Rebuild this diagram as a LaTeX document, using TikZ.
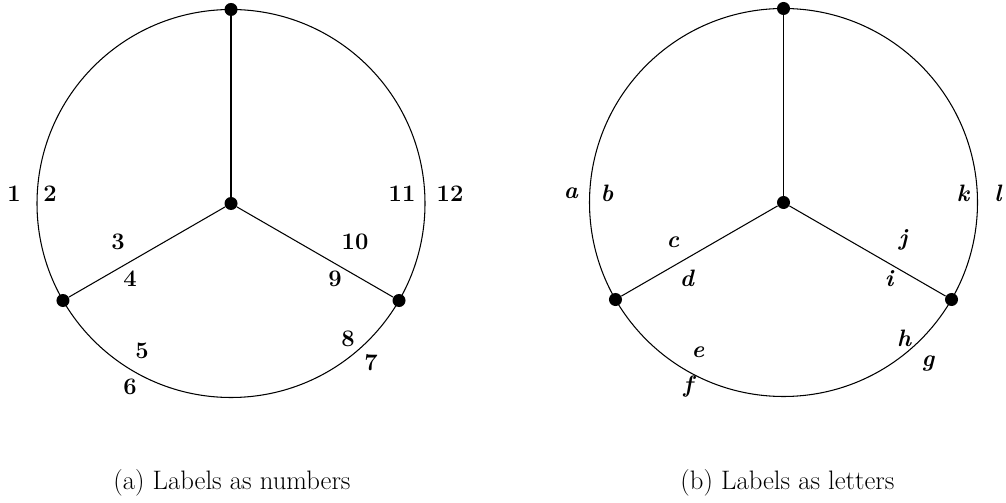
\documentclass[tikz,border=0pt]{standalone}
\usepackage{tikz}
\usetikzlibrary{calc}

\begin{document}
\begin{tikzpicture}[
    vert/.style={
        circle,
        fill,
        inner sep=0pt,
        minimum size=7.4pt
    },
    num/.style={font=\fontsize{13.5}{16}\selectfont\bfseries},
    let/.style={font=\fontsize{13.5}{16}\selectfont\bfseries\itshape},
    capt/.style={font=\fontsize{15.2}{18}\selectfont},
    link/.style={line width=0.6pt}
]
\useasboundingbox (0,0) rectangle (20.12,10.04);

% (a) numbers
\node[vert] (ac) at (4.62,5.97) {};
\node[vert] (at) at ($(ac)+(90:3.88)$) {};
\node[vert] (al) at ($(ac)+(210:3.88)$) {};
\node[vert] (ar) at ($(ac)+(-30:3.88)$) {};
\draw[link] (ac.center) circle[radius=3.88];
\draw[link] (ac) -- (at);
\draw[link] (ac) -- (al);
\draw[link] (ac) -- (ar);

\node[num] (a1) at ($(ac)+(-4.34,0.19)$) {1};
\node[num] (a2) at ($(ac)+(-3.62,0.19)$) {2};
\node[num] (a3) at ($(ac)+(-2.26,-0.77)$) {3};
\node[num] (a4) at ($(ac)+(-2.02,-1.51)$) {4};
\node[num] (a5) at ($(ac)+(-1.78,-2.95)$) {5};
\node[num] (a6) at ($(ac)+(-2.02,-3.67)$) {6};
\node[num] (a7) at ($(ac)+(2.80,-3.19)$) {7};
\node[num] (a8) at ($(ac)+(2.34,-2.71)$) {8};
\node[num] (a9) at ($(ac)+(2.08,-1.51)$) {9};
\node[num] (a10) at ($(ac)+(2.48,-0.77)$) {10};
\node[num] (a11) at ($(ac)+(3.42,0.19)$) {11};
\node[num] (a12) at ($(ac)+(4.38,0.19)$) {12};

\node[capt] (acap) at (4.64,0.38) {(a) Labels as numbers};

% (b) letters
\node[vert] (bc) at (15.67,5.99) {};
\node[vert] (bt) at ($(bc)+(90:3.88)$) {};
\node[vert] (bl) at ($(bc)+(210:3.88)$) {};
\node[vert] (br) at ($(bc)+(-30:3.88)$) {};
\draw[link] (bc.center) circle[radius=3.88];
\draw[link] (bc) -- (bt);
\draw[link] (bc) -- (bl);
\draw[link] (bc) -- (br);

\node[let] (ba) at ($(bc)+(-4.25,0.18)$) {a};
\node[let] (bb) at ($(bc)+(-3.53,0.18)$) {b};
\node[let] (bcc) at ($(bc)+(-2.21,-0.80)$) {c};
\node[let] (bd) at ($(bc)+(-1.93,-1.52)$) {d};
\node[let] (be) at ($(bc)+(-1.71,-3.00)$) {e};
\node[let] (bf) at ($(bc)+(-1.91,-3.68)$) {f};
\node[let] (bg) at ($(bc)+(2.89,-3.22)$) {g};
\node[let] (bh) at ($(bc)+(2.41,-2.72)$) {h};
\node[let] (bi) at ($(bc)+(2.11,-1.52)$) {i};
\node[let] (bj) at ($(bc)+(2.39,-0.74)$) {j};
\node[let] (bk) at ($(bc)+(3.59,0.18)$) {k};
\node[let] (bll) at ($(bc)+(4.29,0.18)$) {l};

\node[capt] (bcap) at (15.75,0.38) {(b) Labels as letters};
\end{tikzpicture}
\end{document}
